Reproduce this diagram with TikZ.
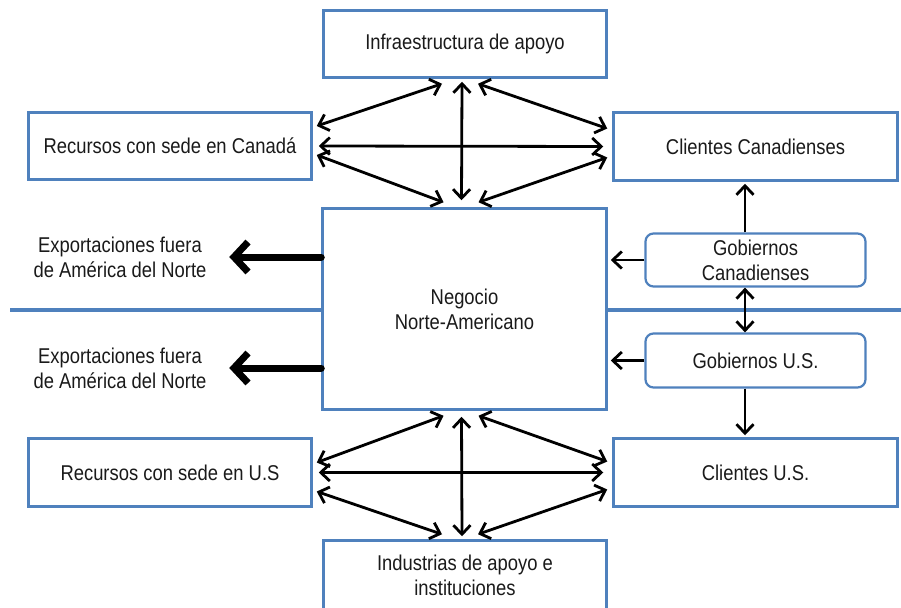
\documentclass[tikz,border=0pt]{standalone}
\usepackage{fontspec}
\setmainfont{Liberation Sans}[FakeStretch=0.86]
\usetikzlibrary{arrows.meta,calc}
\definecolor{frameblue}{HTML}{4F81BD}
\definecolor{inkgray}{HTML}{1A1A1A}
\begin{document}
\begin{tikzpicture}[x=1pt,y=-1pt,
  every node/.style={font=\fontsize{21.4}{25}\selectfont, text=inkgray, align=center, inner sep=0pt},
  box/.style={draw=frameblue, line width=2.5pt, fill=white},
  govbox/.style={box, line width=2.2pt, rounded corners=8pt},
  sepline/.style={draw=frameblue, line width=4.5pt},
  arr/.style={line width=2.8pt, -{Straight Barb[length=9pt,width=17pt]}},
  darr/.style={line width=2.8pt, {Straight Barb[length=9pt,width=17pt]}-{Straight Barb[length=9pt,width=17pt]}},
  bigarr/.style={line width=7pt, -{Straight Barb[length=14pt,width=30pt]}, line cap=round}
]
\useasboundingbox[fill=white] (0,0) rectangle (901,607);

% dividing line between the Canadian and U.S. halves
\draw[sepline] (10,310) -- (901,310);

% boxes
\node[box, minimum width=283pt, minimum height=67pt] (infra) at (465,44) {Infraestructura de apoyo};
\node[box, minimum width=283pt, minimum height=67pt] (reccan) at (170,146) {Recursos con sede en Canadá};
\node[box, minimum width=284pt, minimum height=68pt] (cliecan) at (755.5,146.5) {Clientes Canadienses};
\node[box, minimum width=284pt, minimum height=201pt] (neg) at (464.5,309) {Negocio\\Norte-Americano};
\node[govbox, minimum width=220pt, minimum height=53pt] (gobcan) at (755.5,260) {Gobiernos\\Canadienses};
\node[govbox, minimum width=220pt, minimum height=54pt] (gobus) at (755.5,360.5) {Gobiernos U.S.};
\node[box, minimum width=283pt, minimum height=68pt] (recus) at (170,472.5) {Recursos con sede en U.S};
\node[box, minimum width=284pt, minimum height=68pt] (clieus) at (755.5,472.5) {Clientes U.S.};
\node[box, minimum width=283pt, minimum height=69pt] (indus) at (465,575) {Industrias de apoyo e\\instituciones};

% export labels
\node (exp1) at (120,257) {Exportaciones fuera\\de América del Norte};
\node (exp2) at (120,368) {Exportaciones fuera\\de América del Norte};

% upper cluster
\draw[darr] ($(infra.south)+(-3,3)$) -- ($(neg.north)+(-3,-7)$);
\draw[darr] ($(reccan.east)+(6,0)$) -- ($(cliecan.west)+(-9,0)$);
\draw[darr] ($(reccan.east)+(4,-20)$) -- ($(infra.south)+(-23,5)$);
\draw[darr] ($(infra.south)+(13,5)$) -- ($(cliecan.west)+(-5,-18)$);
\draw[darr] ($(reccan.east)+(4,9)$) -- ($(neg.north)+(-21,-5)$);
\draw[darr] ($(neg.north)+(14,-5)$) -- ($(cliecan.west)+(-5,11)$);

% lower cluster
\draw[darr] ($(neg.south)+(-3,6)$) -- ($(indus.north)+(-3,-3)$);
\draw[darr] ($(recus.east)+(6,0)$) -- ($(clieus.west)+(-9,0)$);
\draw[darr] ($(recus.east)+(4,-10)$) -- ($(neg.south)+(-21,5)$);
\draw[darr] ($(neg.south)+(14,5)$) -- ($(clieus.west)+(-5,-11)$);
\draw[darr] ($(recus.east)+(4,19)$) -- ($(indus.north)+(-23,-5)$);
\draw[darr] ($(indus.north)+(13,-5)$) -- ($(clieus.west)+(-5,17)$);

% government links
\draw[arr] (gobcan.west) -- ($(neg.east |- gobcan.west)+(3,0)$);
\draw[arr] (gobus.west) -- ($(neg.east |- gobus.west)+(3,0)$);
\draw[arr] ($(gobcan.north)+(-10.5,0)$) -- ($(cliecan.south)+(-10.5,2)$);
\draw[darr] ($(gobcan.south)+(-10.5,0)$) -- ($(gobus.north)+(-10.5,0)$);
\draw[arr] ($(gobus.south)+(-10.5,0)$) -- ($(clieus.north)+(-10.5,-2)$);

% exports leaving the continent
\draw[bigarr] (neg.west |- exp1) -- ++(-92,0);
\draw[bigarr] (neg.west |- exp2) -- ++(-92,0);
\end{tikzpicture}
\end{document}
